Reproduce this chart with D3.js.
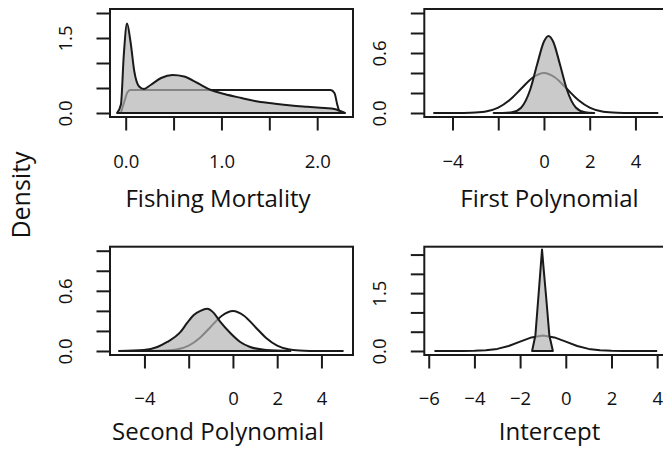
<!DOCTYPE html>
<html>
<head>
<meta charset="utf-8">
<script src="https://cdn.jsdelivr.net/npm/d3@7"></script>
<style>
  body { margin: 0; background: #fff; }
  svg { display: block; font-family: "Open Sans", sans-serif; }
</style>
</head>
<body>
<script>
// panel titles
const panelNames = ["Fishing Mortality", "First Polynomial", "Second Polynomial", "Intercept"]

// data ranges per panel (R pads these by 4%)
const xRanges = [[-0.07, 2.28], [-4.84, 5.0], [-5.15, 5.02], [-5.8, 4.05]]
const yRanges = [[0, 2], [0, 1], [0, 1], [0, 2.6]]

const xTicks = [[0, 0.5, 1, 1.5, 2], [-4, -2, 0, 2, 4], [-4, -2, 0, 2, 4], [-6, -4, -2, 0, 2, 4]]
const xTickLabels = [["0.0", "", "1.0", "", "2.0"], ["−4", "", "0", "2", "4"], ["−4", "", "0", "2", "4"], ["−6", "−4", "−2", "0", "2", "4"]]
const yTicks = [[0, 0.5, 1, 1.5, 2], [0, 0.2, 0.4, 0.6, 0.8, 1], [0, 0.2, 0.4, 0.6, 0.8, 1], [0, 0.5, 1, 1.5, 2, 2.5]]
const yTickLabels = [["0.0", "", "", "1.5", ""], ["0.0", "", "", "0.6", "", ""], ["0.0", "", "", "0.6", "", ""], ["0.0", "", "", "1.5", "", ""]]

// prior densities (outline only)
const priorFM_x = [-0.05, -0.014, 0.02, 0.05, 0.5, 1.0, 1.5, 2.0, 2.14, 2.18, 2.21, 2.235]
const priorFM_y = [0, 0.23, 0.42, 0.46, 0.46, 0.46, 0.46, 0.46, 0.46, 0.40, 0.165, 0]
const priorP1_x = [-4.84, -4, -3.5, -3, -2.5, -2, -1.5, -1, -0.5, 0, 0.5, 1, 1.5, 2, 2.5, 3, 3.5, 4, 5.0]
const priorP1_y = [0, 0.0001, 0.0009, 0.0044, 0.0175, 0.054, 0.13, 0.242, 0.352, 0.399, 0.352, 0.242, 0.13, 0.054, 0.0175, 0.0044, 0.0009, 0.0001, 0]
const priorP2_x = [-5.15, -4, -3.5, -3, -2.5, -2, -1.5, -1, -0.5, 0, 0.5, 1, 1.5, 2, 2.5, 3, 3.5, 4, 5.0]
const priorP2_y = [0, 0.0001, 0.0009, 0.0044, 0.0175, 0.054, 0.13, 0.242, 0.352, 0.399, 0.352, 0.242, 0.13, 0.054, 0.0175, 0.0044, 0.0009, 0.0001, 0]
const priorInt_x = [-5.75, -5, -4.5, -4, -3.5, -3, -2.5, -2, -1.5, -1, -0.5, 0, 0.5, 1, 1.5, 2, 2.5, 3, 4.0]
const priorInt_y = [0, 0.0001, 0.0009, 0.0044, 0.0175, 0.054, 0.13, 0.242, 0.352, 0.399, 0.352, 0.242, 0.13, 0.054, 0.0175, 0.0044, 0.0009, 0.0001, 0]

// posterior densities (filled)
const postFM_x = [-0.09, -0.05, -0.02, 0.014, 0.05, 0.09, 0.14, 0.19, 0.26, 0.37, 0.49, 0.61, 0.75, 0.89, 1.03, 1.21, 1.38, 1.56, 1.73, 1.90, 2.08, 2.18, 2.24, 2.29]
const postFM_y = [0, 0.17, 1.16, 1.79, 1.43, 0.83, 0.53, 0.48, 0.56, 0.70, 0.76, 0.73, 0.60, 0.46, 0.38, 0.30, 0.23, 0.185, 0.15, 0.125, 0.10, 0.08, 0.04, 0]
const postP1_x = [-2.2, -1.8, -1.4, -1.0, -0.6, -0.3, 0, 0.2, 0.4, 0.7, 1.0, 1.4, 1.8, 2.2]
const postP1_y = [0, 0.001, 0.007, 0.053, 0.235, 0.485, 0.715, 0.77, 0.715, 0.485, 0.235, 0.053, 0.007, 0]
const postP2_x = [-5.15, -4.03, -3.42, -2.97, -2.37, -2.07, -1.77, -1.47, -1.17, -0.87, -0.57, -0.12, 0.33, 0.78, 1.5, 2.6]
const postP2_y = [0, 0.01, 0.04, 0.09, 0.19, 0.28, 0.36, 0.40, 0.42, 0.38, 0.29, 0.18, 0.09, 0.04, 0.01, 0]
const postInt_x = [-1.475, -1.33, -1.2, -1.096, -1.04, -0.98, -0.86, -0.72, -0.565]
const postInt_y = [0, 0.41, 1.4, 2.2, 2.63, 2.2, 1.4, 0.41, 0]

const priors = [[priorFM_x, priorFM_y], [priorP1_x, priorP1_y], [priorP2_x, priorP2_y], [priorInt_x, priorInt_y]]
const posts = [[postFM_x, postFM_y], [postP1_x, postP1_y], [postP2_x, postP2_y], [postInt_x, postInt_y]]

let width = 663
let height = 450

// layout of the 2x2 grid
let cols = [{ left: 110, right: 353, titleX: 218 }, { left: 424.3, right: 667.3, titleX: 549.5 }]
let rows = [{ top: 9, bottom: 117, labelY: 51.3, titleY: 89.5 }, { top: 246.7, bottom: 355, labelY: 50, titleY: 85 }]

const svg = d3.select("body").append("svg")
    .attr("width", width)
    .attr("height", height)

svg.append("rect").attr("width", width).attr("height", height).attr("fill", "#fff")

function pad(r) {
  let d = (r[1] - r[0]) * 0.04
  return [r[0] - d, r[1] + d]
}

let ink = "#1a1a1a"
let tickLen = 13.5

panelNames.forEach((name, i) => {
  let c = cols[i % 2], r = rows[Math.floor(i / 2)]

  let x = d3.scaleLinear().domain(pad(xRanges[i])).range([c.left, c.right])
  let y = d3.scaleLinear().domain(pad(yRanges[i])).range([r.bottom, r.top])

  let g = svg.append("g")

  let toPts = ([xs, ys]) => xs.map((v, k) => [v, ys[k]])
  let line = d3.line().x(d => x(d[0])).y(d => y(d[1]))
    .curve(i === 3 ? d3.curveLinear : d3.curveMonotoneX)

  // prior first, then the translucent posterior on top of it
  g.append("path")
      .attr("d", line(toPts(priors[i])))
      .attr("fill", "none")
      .attr("stroke", ink)
      .attr("stroke-width", 2)
      .attr("stroke-linejoin", "round")

  g.append("path")
      .attr("d", line(toPts(posts[i])) + "Z")
      .attr("fill", "#b3b3b3")
      .attr("fill-opacity", 0.7)
      .attr("stroke", ink)
      .attr("stroke-width", 2)
      .attr("stroke-linejoin", "round")

  // box
  g.append("rect")
      .attr("x", c.left).attr("y", r.top)
      .attr("width", c.right - c.left).attr("height", r.bottom - r.top)
      .attr("fill", "none")
      .attr("stroke", ink)
      .attr("stroke-width", 2)

  let xAxis = g.append("g")
      .attr("transform", `translate(0,${r.bottom})`)
      .call(d3.axisBottom(x).tickValues(xTicks[i]).tickFormat((d, k) => xTickLabels[i][k]).tickSize(tickLen))
  xAxis.select(".domain").remove()
  xAxis.selectAll(".tick line").attr("stroke", ink).attr("stroke-width", 2)
  xAxis.selectAll(".tick text")
      .attr("y", r.labelY)
      .attr("dy", 0)
      .attr("fill", "#111")
      .style("font-size", "18.5px")
      .style("font-family", "'Open Sans', sans-serif")

  let yAxis = g.append("g")
      .attr("transform", `translate(${c.left},0)`)
      .call(d3.axisLeft(y).tickValues(yTicks[i]).tickFormat((d, k) => yTickLabels[i][k]).tickSize(tickLen))
  yAxis.select(".domain").remove()
  yAxis.selectAll(".tick line").attr("stroke", ink).attr("stroke-width", 2)
  yAxis.selectAll(".tick text")
      .attr("transform", "rotate(-90)")
      .attr("x", 0)
      .attr("y", -38)
      .attr("dy", 0)
      .attr("text-anchor", "middle")
      .attr("fill", "#111")
      .style("font-size", "18.5px")
      .style("font-family", "'Open Sans', sans-serif")

  g.append("text")
      .text(name)
      .attr("x", c.titleX)
      .attr("y", r.bottom + r.titleY)
      .attr("text-anchor", "middle")
      .attr("fill", "#111")
      .style("font-size", "24px")
})

svg.append("text")
    .text("Density")
    .attr("transform", "translate(30,195) rotate(-90)")
    .attr("text-anchor", "middle")
    .attr("fill", "#111")
    .style("font-size", "25px")
</script>
</body>
</html>
